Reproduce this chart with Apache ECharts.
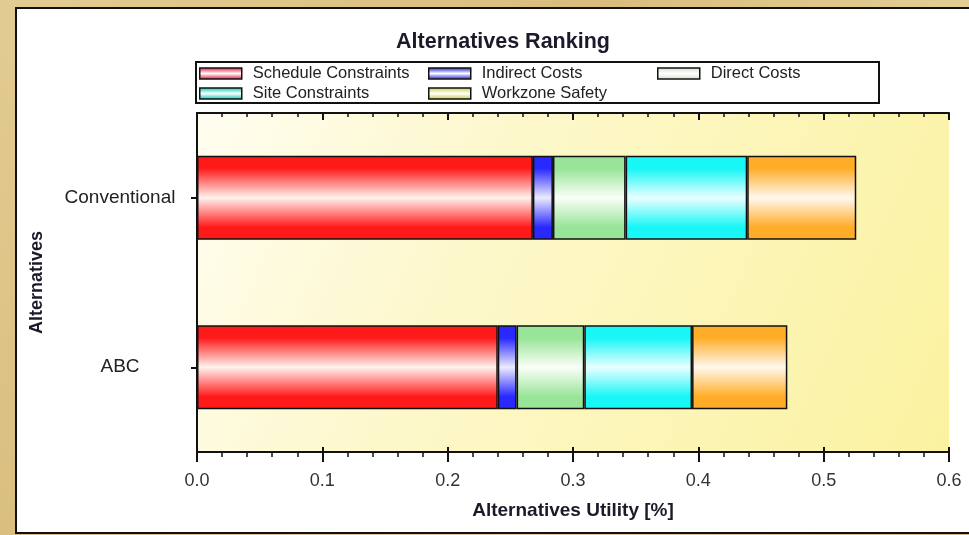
<!DOCTYPE html>
<html>
<head>
<meta charset="utf-8">
<script src="https://cdn.jsdelivr.net/npm/echarts@6/dist/echarts.min.js"></script>
<style>
  html, body { margin: 0; padding: 0; width: 969px; height: 535px; overflow: hidden;
    background: linear-gradient(135deg, #e3cc92 0%, #d8bd7d 40%, #e6d199 70%, #d5b978 100%); }
  #panel { position: absolute; left: 15px; top: 7px; width: 970px; height: 523px;
    background: #ffffff; border: 2px solid #111; box-sizing: content-box; }
  #chart { position: absolute; left: 0; top: 0; width: 969px; height: 535px; }
</style>
</head>
<body>
<div id="panel"></div>
<div id="chart"></div>
<script>
// ---- data ----
const categories = ['ABC', 'Conventional'];
const scheduleConstraints = [0.240, 0.268];
const indirectCosts       = [0.015, 0.016];
const directCosts         = [0.054, 0.058];
const siteConstraints     = [0.086, 0.097];
const workzoneSafety      = [0.076, 0.087];
const xTicks = [0.0, 0.1, 0.2, 0.3, 0.4, 0.5, 0.6];

const FONT = "'Liberation Sans', Arial, sans-serif";

function band(edge, mid) {
  return new echarts.graphic.LinearGradient(0, 0, 0, 1, [
    { offset: 0, color: edge },
    { offset: 0.15, color: edge },
    { offset: 0.5, color: mid },
    { offset: 0.85, color: edge },
    { offset: 1, color: edge }
  ]);
}

const seriesDefs = [
  { name: 'Schedule Constraints', data: scheduleConstraints, color: band('#ff1a1a', '#fff3ee'), legendColor: band('#f0506a', '#ffffff') },
  { name: 'Indirect Costs',       data: indirectCosts,       color: band('#2828ff', '#ecebff'), legendColor: band('#5a5ae0', '#ffffff') },
  { name: 'Direct Costs',         data: directCosts,         color: band('#98e498', '#fbfff8'), legendColor: band('#dfe6d8', '#ffffff') },
  { name: 'Site Constraints',     data: siteConstraints,     color: band('#18f6f6', '#eaffff'), legendColor: band('#40d8c8', '#ffffff') },
  { name: 'Workzone Safety',      data: workzoneSafety,      color: band('#ffad28', '#fff8ee'), legendColor: band('#dcd878', '#ffffff') }
];

const legendPos = [
  { left: 199, top: 65 },
  { left: 428, top: 65 },
  { left: 657, top: 65 },
  { left: 199, top: 85 },
  { left: 428, top: 85 }
];

const chart = echarts.init(document.getElementById('chart'));
const min = xTicks[0], max = xTicks[xTicks.length - 1], interval = xTicks[1] - xTicks[0];

const option = {
  backgroundColor: 'transparent',
  animation: false,
  title: {
    text: 'Alternatives Ranking',
    left: 498, top: 26, textAlign: 'center',
    textStyle: { fontFamily: FONT, fontWeight: 'bold', fontSize: 21.5, color: '#1a1a2a' }
  },
  legend: seriesDefs.map((s, i) => ({
    orient: 'horizontal',
    left: legendPos[i].left, top: legendPos[i].top,
    padding: 0,
    itemWidth: 42, itemHeight: 11,
    icon: 'rect',
    selectedMode: false,
    textStyle: { fontFamily: FONT, fontSize: 16.5, color: '#222', padding: [0, 0, 0, 6] },
    data: [{ name: s.name, itemStyle: { color: s.legendColor, borderColor: '#111', borderWidth: 1.5 } }]
  })),
  graphic: [
    { type: 'rect', shape: { x: 196, y: 62, width: 683, height: 41 },
      style: { fill: 'none', stroke: '#111', lineWidth: 2 }, z: 100 }
  ],
  grid: {
    left: 197, right: 20, top: 113, bottom: 83,
    show: true,
    borderWidth: 0,
    backgroundColor: new echarts.graphic.LinearGradient(0, 0, 1, 1, [
      { offset: 0, color: '#fffdf0' },
      { offset: 0.35, color: '#fdf8cc' },
      { offset: 1, color: '#fbf2a0' }
    ])
  },
  xAxis: [
    {
      type: 'value', position: 'bottom', min: min, max: max, interval: interval,
      name: 'Alternatives Utility [%]', nameLocation: 'middle', nameGap: 49,
      nameTextStyle: { fontFamily: FONT, fontWeight: 'bold', fontSize: 19, color: '#1a1a2a' },
      axisLine: { show: true, lineStyle: { color: '#111', width: 2 } },
      axisTick: { show: true, length: 10, lineStyle: { color: '#111', width: 2 } },
      minorTick: { show: true, splitNumber: 5, length: 5, lineStyle: { color: '#111', width: 1.5 } },
      axisLabel: { margin: 20, fontFamily: FONT, fontSize: 18, color: '#333',
        formatter: v => v.toFixed(1) },
      splitLine: { show: false }
    },
    {
      type: 'value', position: 'bottom', min: min, max: max, interval: interval,
      axisLine: { show: false },
      axisTick: { show: true, inside: true, length: 5, lineStyle: { color: '#111', width: 2 } },
      axisLabel: { show: false },
      splitLine: { show: false }
    },
    {
      type: 'value', position: 'top', min: min, max: max, interval: interval,
      axisLine: { show: true, lineStyle: { color: '#111', width: 2 } },
      axisTick: { show: true, inside: true, length: 7, lineStyle: { color: '#111', width: 2 } },
      minorTick: { show: true, splitNumber: 5, length: 4, lineStyle: { color: '#111', width: 1.5 } },
      axisLabel: { show: false },
      splitLine: { show: false }
    }
  ],
  yAxis: [
    {
      type: 'category', data: categories, position: 'left',
      name: 'Alternatives', nameLocation: 'middle', nameGap: 151, nameRotate: 90,
      nameTextStyle: { fontFamily: FONT, fontWeight: 'bold', fontSize: 18, color: '#1a1a2a' },
      axisLine: { show: true, lineStyle: { color: '#111', width: 2 } },
      axisTick: { show: true, alignWithLabel: true, length: 6, lineStyle: { color: '#111', width: 2 } },
      axisLabel: { margin: 77, align: 'center', fontFamily: FONT, fontSize: 19, color: '#222' },
      splitLine: { show: false }
    },
    {
      type: 'category', data: categories, position: 'left',
      axisLine: { show: false },
      axisTick: { show: true, inside: true, alignWithLabel: true, length: 5, lineStyle: { color: '#111', width: 2 } },
      axisLabel: { show: false },
      splitLine: { show: false }
    },
    {
      type: 'category', data: categories, position: 'right',
      axisLine: { show: true, lineStyle: { color: '#111', width: 2 } },
      axisTick: { show: false },
      axisLabel: { show: false },
      splitLine: { show: false }
    }
  ],
  series: seriesDefs.map(s => ({
    name: s.name,
    type: 'bar',
    stack: 'total',
    xAxisIndex: 0,
    yAxisIndex: 0,
    barWidth: 84,
    data: s.data,
    itemStyle: { color: s.color, borderColor: '#111', borderWidth: 1.5 },
    emphasis: { disabled: true }
  }))
};

chart.setOption(option);
</script>
</body>
</html>
